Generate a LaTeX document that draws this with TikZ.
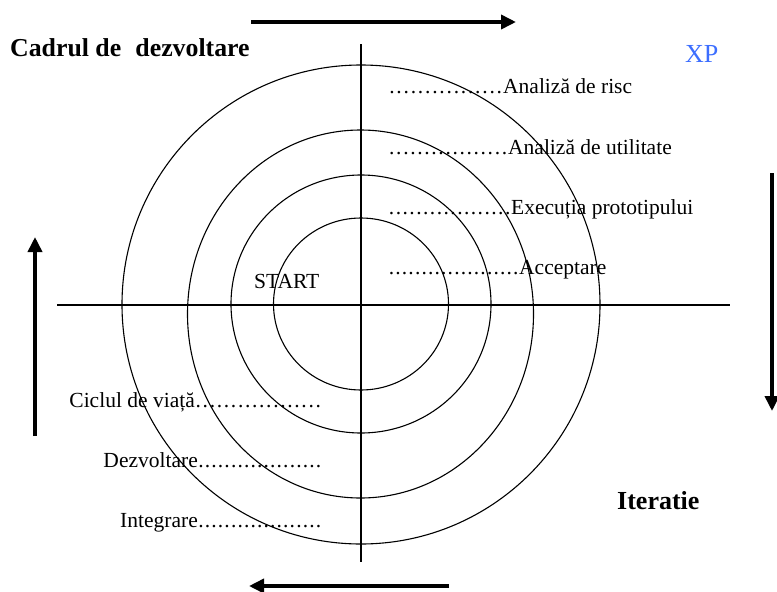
\documentclass[tikz,border=0pt]{standalone}
\usepackage{fontspec}
\setmainfont{Liberation Serif}
\usetikzlibrary{arrows.meta}
\definecolor{xpblue}{RGB}{60,110,255}
\newcommand\leaderdots[2]{\hbox to #1pt{\xleaders\hbox to #2pt{\hss.\hss}\hfill}}
\begin{document}
\begin{tikzpicture}[x=1pt,y=-1pt,
  ring/.style={draw=black,line width=1.1pt},
  axisline/.style={draw=black,line width=1.3pt},
  bigarrow/.style={draw=black,line width=3.6pt,-{Triangle[length=15pt,width=14pt]}},
  lbl/.style={inner sep=0pt,font=\fontsize{21.5}{24}\selectfont},
  ttl/.style={inner sep=0pt,font=\fontsize{25.8}{30}\selectfont\bfseries}]
\useasboundingbox (0,0) rectangle (777,592);
\fill[white] (0,0) rectangle (777,592);
% rings
\draw[ring] (361,304.5) ellipse [x radius=239, y radius=239.5];
\draw[ring] (360.5,314) ellipse [x radius=173, y radius=184];
\draw[ring] (361,304) ellipse [x radius=130, y radius=129];
\draw[ring] (361,304) ellipse [x radius=87.5, y radius=86];
% axes
\coordinate (hl) at (57,305); \coordinate (hr) at (730,305);
\coordinate (vt) at (361,44); \coordinate (vb) at (361,562);
\draw[axisline] (hl) -- (hr);
\draw[axisline] (vt) -- (vb);
% arrows
\coordinate (ta) at (251,22); \coordinate (tb) at (516,22);
\coordinate (ra) at (772,173); \coordinate (rb) at (772,411);
\coordinate (ba) at (449,586); \coordinate (bb) at (249,586);
\coordinate (la) at (35,436); \coordinate (lb) at (35,237);
\draw[bigarrow] (ta) -- (tb);
\draw[bigarrow] (ra) -- (rb);
\draw[bigarrow] (ba) -- (bb);
\draw[bigarrow] (la) -- (lb);
% titles
\node[ttl,anchor=base west] (cadru) at (10,56) {Cadrul de\hspace{0.3em} dezvoltare};
\node[inner sep=0pt,anchor=base west,text=xpblue,font=\fontsize{26}{30}\selectfont] (xp) at (685,62) {XP};
\node[ttl,anchor=base west,font=\fontsize{26}{30}\selectfont\bfseries] (iter) at (617,509) {Iteratie};
\node[lbl,anchor=base west] (start) at (254,288) {START};
% right labels
\node[lbl,anchor=base west] (risc) at (388,93) {\leaderdots{115}{6.8}Analiză de risc};
\node[lbl,anchor=base west] (util) at (388,154) {\leaderdots{120}{6.7}Analiză de utilitate};
\node[lbl,anchor=base west] (exec) at (388,214) {\leaderdots{123}{6.8}Execuția prototipului};
\node[lbl,anchor=base west] (acc) at (388,274) {\leaderdots{131}{6.5}Acceptare};
% left labels
\node[lbl,anchor=base east] (ciclu) at (322,407) {Ciclul de viață\leaderdots{127}{7}};
\node[lbl,anchor=base east] (dezv) at (322,467) {Dezvoltare\leaderdots{124}{6.5}};
\node[lbl,anchor=base east] (integ) at (322,527) {Integrare\leaderdots{124}{6.5}};
\end{tikzpicture}
\end{document}
